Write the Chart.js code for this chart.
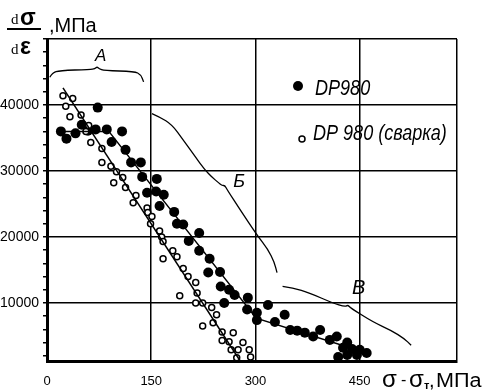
<!DOCTYPE html>
<html>
<head>
<meta charset="utf-8">
<script src="https://cdn.jsdelivr.net/npm/chart.js@4.4.1/dist/chart.umd.min.js"></script>
<style>
  html, body { margin: 0; padding: 0; background: #fff; }
</style>
</head>
<body>
<canvas id="chart" width="484" height="391"></canvas>
<script>
// DP980 base metal: sigma - sigma_T (MPa) vs d sigma / d epsilon (MPa)
const dpX = [20, 28, 41, 50, 59, 73, 70, 86, 93, 108, 113, 121, 135, 137, 158, 144, 157, 168, 162, 183,
  187, 196, 219, 204, 219, 234, 232, 249, 250, 262, 270, 289, 255, 288, 302, 302, 318, 328, 342, 350,
  360, 371, 383, 393, 407, 417, 432, 426, 439, 450, 460, 419, 432, 446];
const dpY = [36000, 34900, 35700, 37000, 36100, 39600, 36300, 36300, 34400, 36000, 33200, 31300, 31300, 29100, 28800, 26700, 26900, 26400, 24700, 23800,
  22000, 21900, 20600, 19400, 17900, 16700, 14600, 14700, 12500, 12000, 11200, 10800, 10000, 9000, 8500, 7400, 9700, 7100, 8200, 5900,
  5800, 5500, 4900, 5900, 4400, 4900, 4000, 3200, 3000, 2900, 2400, 1800, 2100, 2100];

// DP 980 welded
const weldX = [23, 37, 27, 33, 49, 60, 56, 63, 79, 79, 92, 100, 96, 109, 113, 128, 124, 144, 145, 151,
  149, 162, 165, 167, 181, 187, 167, 196, 203, 214, 216, 191, 214, 224, 237, 244, 224, 239, 252, 268,
  252, 262, 282, 265, 275, 291, 273, 293];
const weldY = [41400, 41000, 39800, 38200, 38500, 36900, 36000, 34300, 33400, 31300, 30700, 29900, 28200, 29000, 27500, 26300, 25200, 24400, 23700, 23100,
  22000, 20900, 20000, 19300, 17900, 17000, 16700, 15200, 14000, 13100, 11500, 11100, 10000, 10000, 9300, 8200, 6500, 7000, 5600, 5500,
  4300, 4100, 4000, 2900, 2900, 2900, 1700, 1800];

// hand drawn trend lines
const dpFitX = [18, 89, 301, 460];
const dpFitY = [36000, 36000, 7700, 2400];
const weldFitX = [23, 278];
const weldFitY = [42600, 1200];

const xTickLabels = [0, 150, 300, 450];
const yTickLabels = [10000, 20000, 30000, 40000];

// stage braces (A, Б, В), in data units
const braceA = [[4, 44200], [8, 44900], [18, 45200], [62, 45400], [69, 45500], [72, 45800], [75, 45500],
  [82, 45200], [126, 45100], [135, 44600], [139, 43500]];
const braceB = [[151, 38700], [162, 38200], [180, 37000], [196, 34700], [213, 32200], [227, 30200],
  [237, 29100], [247, 28200], [252, 27800], [256, 27800], [259, 27200], [278, 24100], [302, 20300],
  [318, 18100], [327, 16200], [331, 14600]];
const braceV = [[339, 12500], [354, 12300], [378, 11500], [411, 10000], [429, 9400], [433, 9700],
  [436, 9300], [469, 7100], [496, 5800], [514, 4600], [524, 3600]];
const stageLabels = [["A", 69, 46600, 17], ["Б", 268, 27600, 18], ["В", 439, 11400, 20]];

const pair = (xs, ys) => xs.map((x, i) => ({ x: x, y: ys[i] }));

const SANS = "'Liberation Sans', Arial, sans-serif";
const SERIF = "'Liberation Serif', 'Times New Roman', serif";

function smoothPath(ctx, pts) {
  ctx.beginPath();
  ctx.moveTo(pts[0][0], pts[0][1]);
  for (let i = 1; i < pts.length - 1; i++) {
    const mx = (pts[i][0] + pts[i + 1][0]) / 2;
    const my = (pts[i][1] + pts[i + 1][1]) / 2;
    ctx.quadraticCurveTo(pts[i][0], pts[i][1], mx, my);
  }
  const last = pts[pts.length - 1];
  ctx.lineTo(last[0], last[1]);
  ctx.stroke();
}

function squeezeText(ctx, text, x, y, sx) {
  ctx.save();
  ctx.translate(x, y);
  ctx.scale(sx, 1);
  ctx.fillText(text, 0, 0);
  ctx.restore();
}

const annotations = {
  id: "annotations",
  afterDatasetsDraw(chart) {
    const ctx = chart.ctx;
    const xs = chart.scales.x;
    const ys = chart.scales.y;
    const toPx = (p) => [xs.getPixelForValue(p[0]), ys.getPixelForValue(p[1])];

    ctx.save();
    ctx.strokeStyle = "#000";
    ctx.fillStyle = "#000";
    ctx.lineWidth = 1.3;
    [braceA, braceB, braceV].forEach((b) => smoothPath(ctx, b.map(toPx)));

    ctx.textBaseline = "alphabetic";
    ctx.textAlign = "left";
    stageLabels.forEach(([t, x, y, size]) => {
      ctx.font = "italic " + size + "px " + SANS;
      const p = toPx([x, y]);
      ctx.fillText(t, p[0], p[1]);
    });

    // legend
    const dp = chart.data.datasets[3];
    const weld = chart.data.datasets[2];
    ctx.beginPath();
    ctx.arc(298, 86, 5, 0, Math.PI * 2);
    ctx.fillStyle = dp.backgroundColor;
    ctx.fill();
    ctx.beginPath();
    ctx.arc(302, 139, 3, 0, Math.PI * 2);
    ctx.fillStyle = weld.backgroundColor;
    ctx.fill();
    ctx.lineWidth = weld.borderWidth;
    ctx.stroke();
    ctx.fillStyle = "#000";
    ctx.font = "italic 22px " + SANS;
    squeezeText(ctx, dp.label, 315, 95, 0.82);
    squeezeText(ctx, weld.label, 313, 140, 0.82);

    // y axis title: dσ/dε ,МПа
    ctx.font = "15px " + SERIF;
    ctx.fillText("d", 11, 24);
    ctx.fillText("d", 11, 54);
    ctx.font = "bold 23px " + SANS;
    ctx.fillText("σ", 20, 25);
    ctx.fillText("ε", 20, 54);
    ctx.lineWidth = 2;
    ctx.beginPath();
    ctx.moveTo(7, 29);
    ctx.lineTo(41, 29);
    ctx.stroke();
    ctx.font = "20px " + SANS;
    ctx.fillText(",МПа", 49, 32);

    // x axis title: σ - σт,МПа
    ctx.font = "24px " + SANS;
    ctx.fillText("σ", 382, 387);
    ctx.fillText("σ", 409, 387);
    ctx.font = "16px " + SANS;
    ctx.fillText("-", 401, 385);
    ctx.font = "bold 11px " + SANS;
    ctx.fillText("т", 424, 389);
    ctx.font = "20px " + SANS;
    ctx.fillText(",", 429, 387);
    squeezeText(ctx, "МПа", 436, 387, 1.08);
    ctx.restore();
  },
};

const ctx = document.getElementById("chart").getContext("2d");
new Chart(ctx, {
  type: "scatter",
  data: {
    datasets: [
      {
        label: "DP980 trend",
        data: pair(dpFitX, dpFitY),
        showLine: true,
        pointRadius: 0,
        borderColor: "#000",
        borderWidth: 1.5,
      },
      {
        label: "DP 980 (сварка) trend",
        data: pair(weldFitX, weldFitY),
        showLine: true,
        pointRadius: 0,
        borderColor: "#000",
        borderWidth: 1.5,
      },
      {
        label: "DP 980 (сварка)",
        data: pair(weldX, weldY),
        pointRadius: 3,
        backgroundColor: "#fff",
        borderColor: "#000",
        borderWidth: 1.5,
      },
      {
        label: "DP980",
        data: pair(dpX, dpY),
        pointRadius: 5,
        backgroundColor: "#000",
        borderColor: "#000",
        borderWidth: 0,
      },
    ],
  },
  options: {
    responsive: false,
    animation: false,
    events: [],
    layout: { padding: { top: 39, right: 27, left: 0, bottom: 0 } },
    plugins: {
      legend: { display: false },
      tooltip: { enabled: false },
    },
    scales: {
      x: {
        type: "linear",
        min: 0,
        max: 590,
        afterBuildTicks: (s) => {
          s.ticks = xTickLabels.concat([590]).map((v) => ({ value: v }));
        },
        afterFit: (s) => {
          s.height = 30;
        },
        ticks: {
          autoSkip: false,
          maxRotation: 0,
          padding: 13,
          color: "#000",
          font: { family: SANS, size: 13 },
          callback: (v) => (xTickLabels.includes(v) ? String(v) : ""),
        },
        grid: {
          color: "#000",
          lineWidth: 1.5,
          drawTicks: false,
        },
        border: { display: true, color: "#000", width: 3 },
      },
      y: {
        type: "linear",
        min: 1200,
        max: 50000,
        afterBuildTicks: (s) => {
          const t = [];
          for (let v = 2000; v <= 50000; v += 2000) t.push({ value: v });
          s.ticks = t;
        },
        afterFit: (s) => {
          s.width = 47;
        },
        ticks: {
          autoSkip: false,
          padding: 4,
          color: "#000",
          font: { family: SANS, size: 14 },
          callback: (v) => (yTickLabels.includes(v) ? String(v) : ""),
        },
        grid: {
          color: (c) => (c.tick && c.tick.value % 10000 === 0 ? "#000" : "rgba(0,0,0,0)"),
          tickColor: "#000",
          tickLength: 4,
          lineWidth: 1.5,
        },
        border: { display: true, color: "#000", width: 3 },
      },
    },
  },
  plugins: [annotations],
});
</script>
</body>
</html>
